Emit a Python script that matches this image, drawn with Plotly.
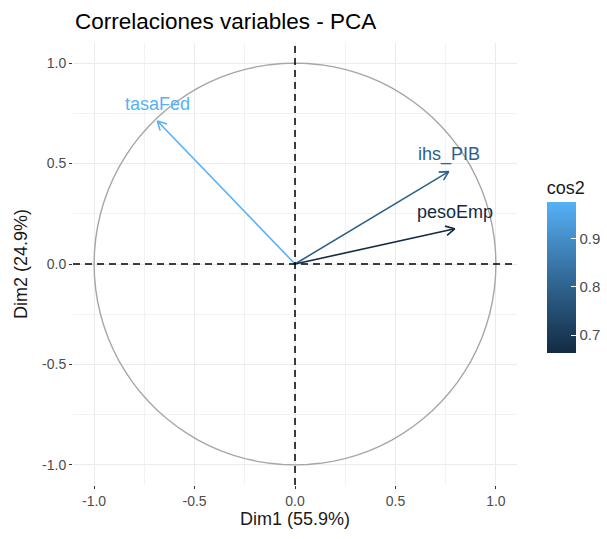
import numpy as np
import plotly.graph_objects as go
from plotly.colors import sample_colorscale

# PCA variable coordinates (correlations with the first two dimensions)
variables = ["tasaFed", "ihs_PIB", "pesoEmp"]
dim1 = [-0.685, 0.765, 0.795]
dim2 = [0.712, 0.460, 0.175]
dim1_label = "Dim1 (55.9%)"
dim2_label = "Dim2 (24.9%)"
title_text = "Correlaciones variables - PCA"
axis_ticks = [-1.0, -0.5, 0.0, 0.5, 1.0]
cbar_ticks = [0.7, 0.8, 0.9]

cos2 = [x * x + y * y for x, y in zip(dim1, dim2)]
cmin, cmax = min(cos2), max(cos2)

# ggplot-like sequential blue gradient
scale = [
    [0.0, "#132B43"],
    [0.25, "#234A6D"],
    [0.5, "#336A98"],
    [0.75, "#458DC7"],
    [1.0, "#56B1F7"],
]

font_family = "Liberation Sans, Arial, sans-serif"
fig = go.Figure()

# Unit circle of correlations
theta = np.linspace(0, 2 * np.pi, 101)
fig.add_trace(go.Scatter(
    x=np.cos(theta), y=np.sin(theta), mode="lines",
    line=dict(color="#A6A6A6", width=1.4), hoverinfo="skip", showlegend=False,
))

# Arrows from the origin, each with an open arrowhead
head_len = 0.05
head_ang = np.deg2rad(28)
for name, x, y, c in zip(variables, dim1, dim2, cos2):
    col = sample_colorscale(scale, [(c - cmin) / (cmax - cmin)])[0]
    ang = np.arctan2(y, x)
    hx1 = x - head_len * np.cos(ang - head_ang)
    hy1 = y - head_len * np.sin(ang - head_ang)
    hx2 = x - head_len * np.cos(ang + head_ang)
    hy2 = y - head_len * np.sin(ang + head_ang)
    fig.add_trace(go.Scatter(
        x=[0, x, None, hx1, x, hx2],
        y=[0, y, None, hy1, y, hy2],
        mode="lines", line=dict(color=col, width=1.6),
        hoverinfo="skip", showlegend=False,
    ))
    fig.add_annotation(
        x=x, y=y, text=name, showarrow=False, yshift=17,
        xanchor="center", yanchor="middle",
        font=dict(family=font_family, size=18, color=col),
    )

# Colour bar for cos2
fig.add_trace(go.Scatter(
    x=dim1, y=dim2, mode="markers", hoverinfo="skip", showlegend=False,
    marker=dict(
        size=1, opacity=0, color=cos2, colorscale=scale, cmin=cmin, cmax=cmax,
        showscale=True,
        colorbar=dict(
            title=dict(text="cos2", side="top",
                       font=dict(family=font_family, size=18, color="#1A1A1A")),
            thickness=29, thicknessmode="pixels",
            len=176, lenmode="pixels",
            x=1.067, xanchor="left", xpad=0,
            y=(485 - 353) / 442, yanchor="bottom", ypad=0,
            outlinewidth=0, tickvals=cbar_ticks,
            ticktext=[f"{v:.1f}" for v in cbar_ticks],
            ticks="inside", ticklen=5, tickcolor="white",
            tickfont=dict(family=font_family, size=15, color="#4D4D4D"),
        ),
    ),
))

# Dashed reference axes through the origin
fig.add_shape(type="line", xref="paper", yref="y", x0=0, x1=1, y0=0, y1=0,
              line=dict(color="black", width=1.5, dash="7px,5px"))
fig.add_shape(type="line", xref="x", yref="paper", x0=0, x1=0, y0=0, y1=1,
              line=dict(color="black", width=1.5, dash="7px,5px"))

axis_common = dict(
    range=[-1.1, 1.1], tickvals=axis_ticks,
    ticktext=[f"{v:.1f}" for v in axis_ticks],
    showgrid=True, gridcolor="#EBEBEB", gridwidth=1.2,
    minor=dict(showgrid=True, gridcolor="#F2F2F2", gridwidth=0.6,
               tickvals=[-0.75, -0.25, 0.25, 0.75]),
    zeroline=False, showline=False,
    ticks="outside", ticklen=3, tickcolor="#333333", tickwidth=1,
    tickfont=dict(family=font_family, size=14, color="#4D4D4D"),
)

fig.update_xaxes(**axis_common,
                 title=dict(text=dim1_label, standoff=4,
                            font=dict(family=font_family, size=18, color="#1A1A1A")))
fig.update_yaxes(**axis_common, scaleanchor="x", scaleratio=1,
                 title=dict(text=dim2_label, standoff=9,
                            font=dict(family=font_family, size=18, color="#1A1A1A")))

fig.update_layout(
    width=607, height=539,
    margin=dict(l=73, r=90, t=43, b=54, autoexpand=False),
    paper_bgcolor="white", plot_bgcolor="white",
    title=dict(text=title_text, x=75 / 607, xanchor="left", xref="container",
               y=1 - 21 / 539, yanchor="middle", yref="container",
               font=dict(family=font_family, size=22.5, color="#000000")),
)

fig.write_html("out.html")
